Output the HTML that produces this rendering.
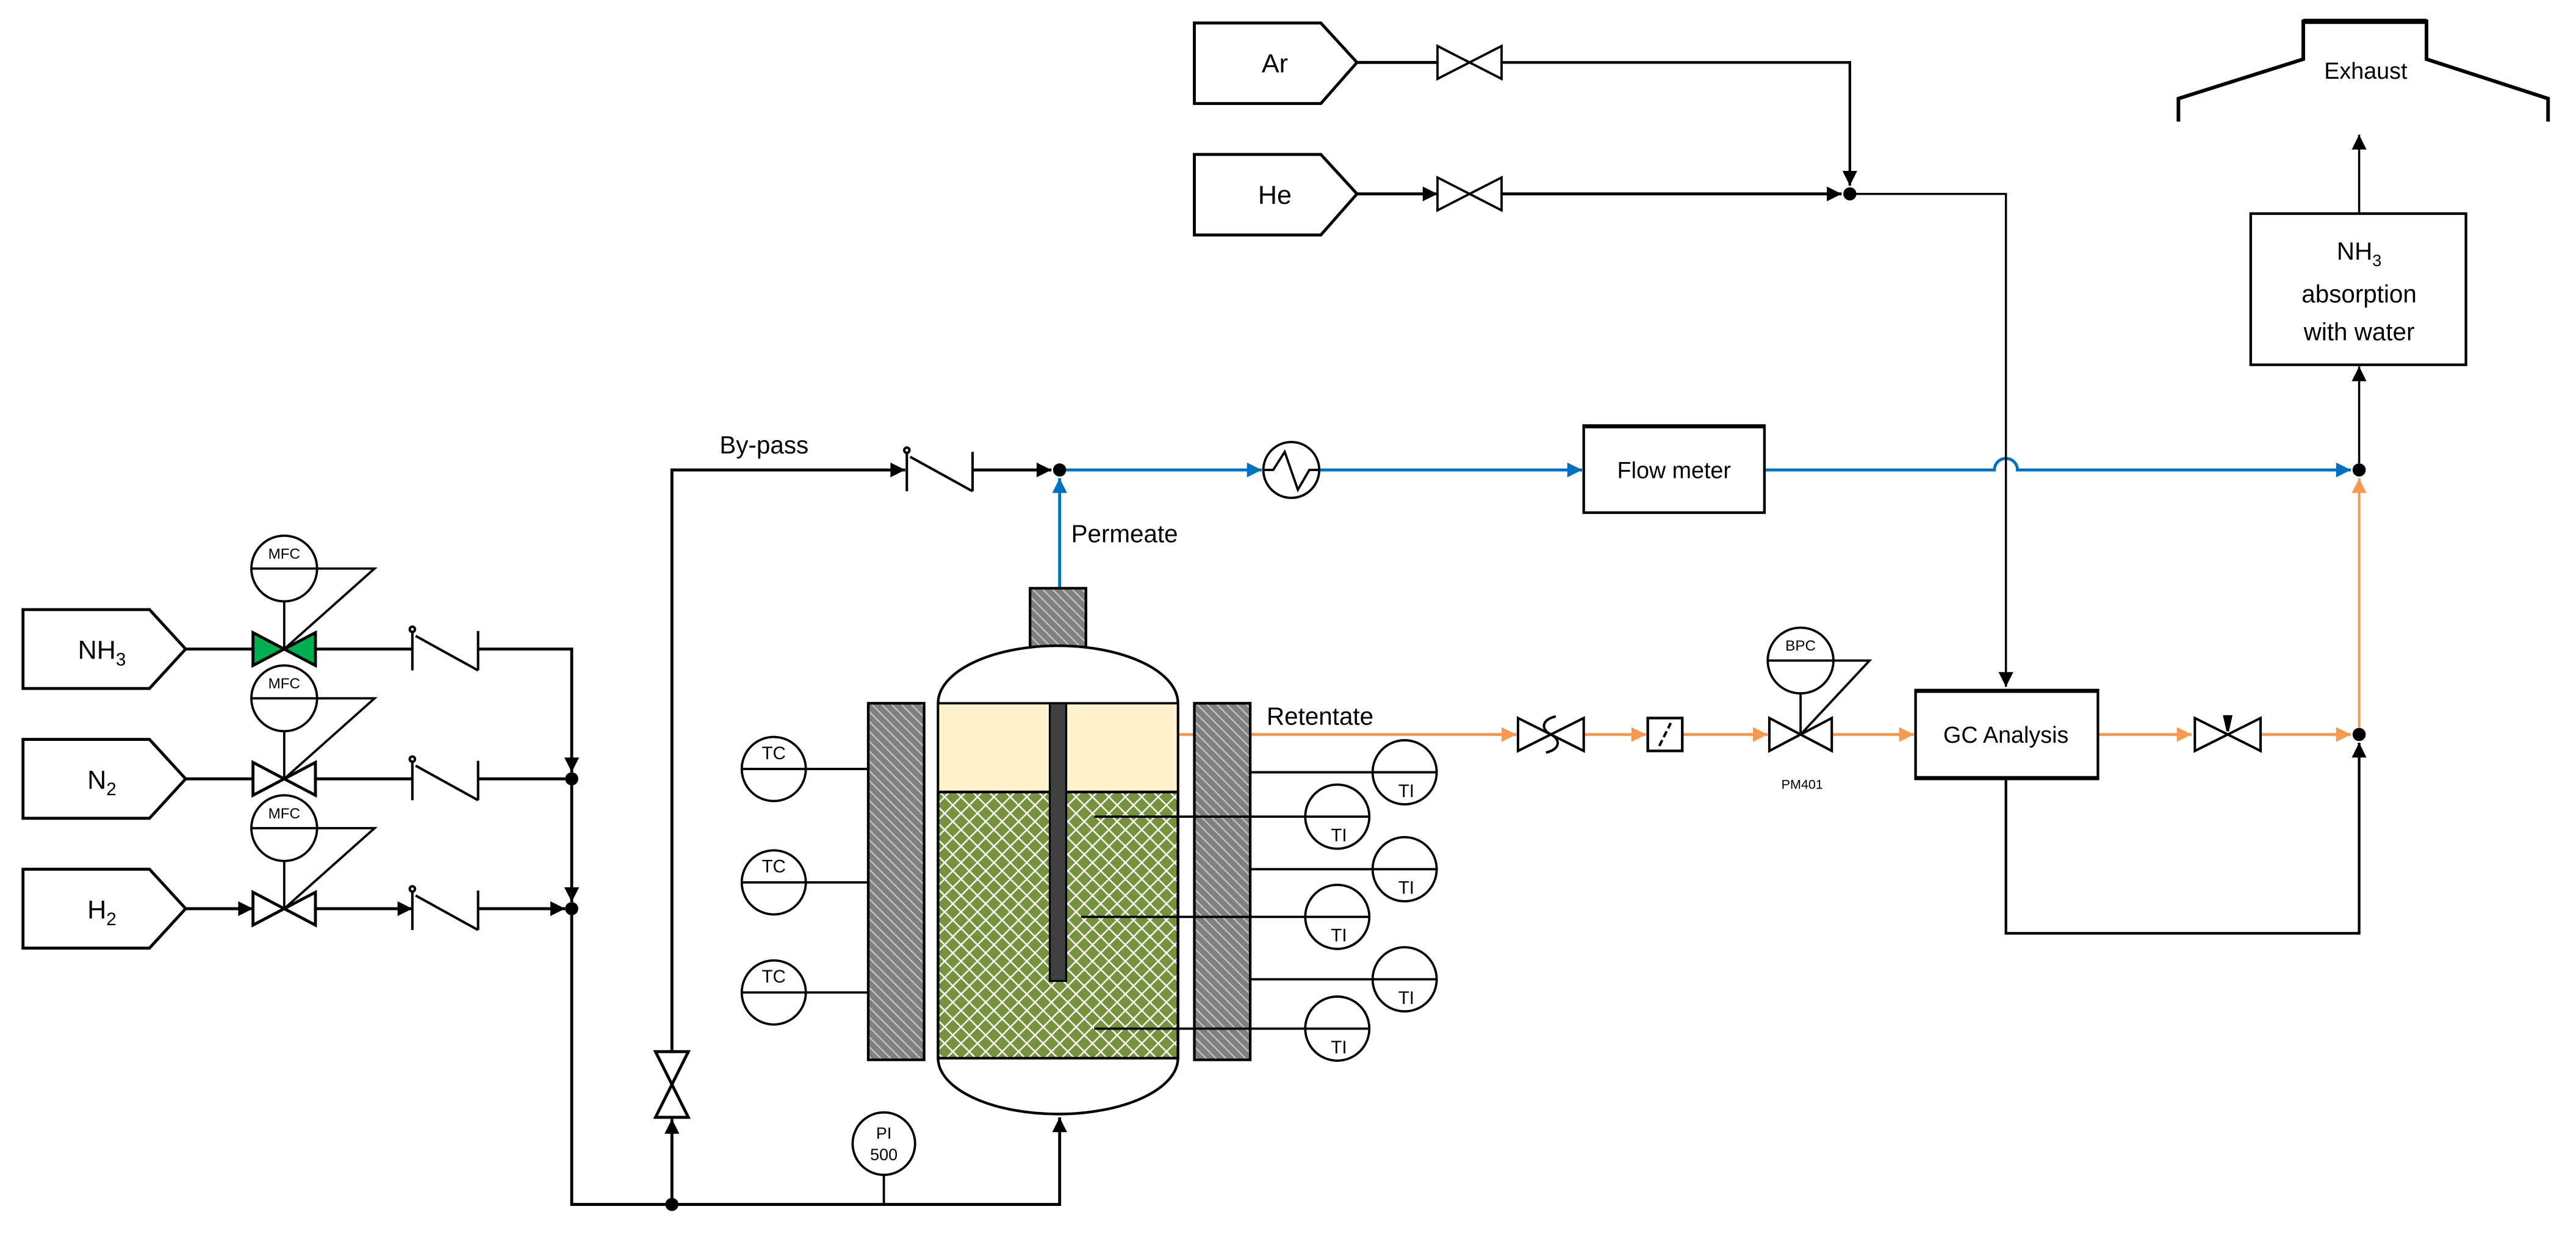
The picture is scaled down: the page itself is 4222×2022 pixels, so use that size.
<!DOCTYPE html>
<html><head><meta charset="utf-8"><style>html,body{margin:0;padding:0;background:#fff}svg{display:block}text{font-family:"Liberation Sans",sans-serif;fill:#000}</style></head><body>
<svg width="4222" height="2022" viewBox="0 0 1568 751" preserveAspectRatio="none" xmlns="http://www.w3.org/2000/svg">
<defs>
<marker id="a" viewBox="0 0 10 10" refX="10" refY="5" markerWidth="11" markerHeight="9" markerUnits="userSpaceOnUse" orient="auto"><path d="M0,0L10,5L0,10z" fill="#000"/></marker>
<marker id="b" viewBox="0 0 10 10" refX="10" refY="5" markerWidth="11" markerHeight="9" markerUnits="userSpaceOnUse" orient="auto"><path d="M0,0L10,5L0,10z" fill="#0070c0"/></marker>
<marker id="o" viewBox="0 0 10 10" refX="10" refY="5" markerWidth="11" markerHeight="9" markerUnits="userSpaceOnUse" orient="auto"><path d="M0,0L10,5L0,10z" fill="#f79a4f"/></marker>
<pattern id="gh" width="6" height="6" patternUnits="userSpaceOnUse"><rect width="6" height="6" fill="#808080"/><path d="M-1,-1L7,7M-1,5L1,7M5,-1L7,1" stroke="#c8c8c8" stroke-width="0.8"/></pattern>
<pattern id="gr" width="10" height="10" patternUnits="userSpaceOnUse"><rect width="10" height="10" fill="#76923c"/><path d="M0,0L10,10M10,0L0,10" stroke="#fff" stroke-width="0.9"/></pattern>
</defs>
<g fill="none" stroke="#000" stroke-width="1.8">
<path d="M14,371H91L113,395L91,419H14Z"/>
<path d="M14,450H91L113,474L91,498H14Z"/>
<path d="M14,529H91L113,553L91,577H14Z"/>
<path d="M113,395H154M113,474H154M113,553H154" marker-end="url(#a)"/>
<path d="M154,385L154,405L192,385L192,405Z" fill="#00b050"/>
<path d="M154,464L154,484L192,464L192,484Z" fill="#fff"/>
<path d="M154,543L154,563L192,543L192,563Z" fill="#fff"/>
<g stroke-width="1.4">
<ellipse cx="173" cy="346" rx="20" ry="20" fill="#fff"/><path d="M153,346H228L173,395M173,366V395"/>
<ellipse cx="173" cy="425" rx="20" ry="20" fill="#fff"/><path d="M153,425H228L173,474M173,445V474"/>
<ellipse cx="173" cy="504" rx="20" ry="20" fill="#fff"/><path d="M153,504H228L173,553M173,524V553"/>
</g>
<path d="M192,395H251M192,474H251M192,553H251" marker-end="url(#a)"/>
<g stroke-width="1.5">
<path d="M251,384V408M253,387L291,408M291,384V408"/><circle cx="251" cy="383" r="1.6" fill="#fff"/>
<path d="M251,463V487M253,466L291,487M291,463V487"/><circle cx="251" cy="462" r="1.6" fill="#fff"/>
<path d="M251,542V566M253,545L291,566M291,542V566"/><circle cx="251" cy="541" r="1.6" fill="#fff"/>
</g>
<path d="M291,395H348V470" marker-end="url(#a)"/>
<path d="M291,474H344M291,553H344" marker-end="url(#a)"/>
<path d="M348,474V549" marker-end="url(#a)"/>
<path d="M348,553V733H641"/>
<path d="M641,733H645V680" marker-end="url(#a)"/>
<path d="M538,715V733" stroke-width="1.4"/>
<circle cx="538" cy="696" r="19" fill="#fff" stroke-width="1.4"/>
<path d="M409,733V681" marker-end="url(#a)"/>
<path d="M399,640L419,640L399,680L419,680Z" fill="#fff"/>
<path d="M409,640V286H551" marker-end="url(#a)"/>
<g stroke-width="1.5"><path d="M552,275V299M554,278L592,299M592,275V299"/><circle cx="552" cy="274" r="1.6" fill="#fff"/></g>
<path d="M592,286H640" marker-end="url(#a)"/>
</g>
<g fill="#000"><circle cx="348" cy="474" r="4"/><circle cx="348" cy="553" r="4"/><circle cx="409" cy="733" r="4"/><circle cx="645" cy="286" r="4"/><circle cx="1126" cy="118" r="4"/><circle cx="1436" cy="286" r="4"/><circle cx="1436" cy="447" r="4"/></g>
<g fill="none" stroke="#0070c0" stroke-width="1.8">
<path d="M645,358V291" marker-end="url(#b)"/>
<path d="M649,286H768" marker-end="url(#b)"/>
<path d="M803,286H963" marker-end="url(#b)"/>
<path d="M1074,286H1214A6,6 0 0 1 1228,286H1431" marker-end="url(#b)"/>
</g>
<g fill="none" stroke="#000" stroke-width="1.4">
<circle cx="786" cy="286" r="17" fill="#fff"/><path d="M769,286H775L782,275L790,298L797,286H803"/>
<rect x="964" y="259" width="110" height="53" stroke-width="1.6"/><path d="M964,259.5H1074" stroke-width="2.4"/>
</g>
<g fill="none" stroke="#000" stroke-width="1.8">
<path d="M727,14H804L826,38L804,63H727Z"/>
<path d="M727,94H804L826,118L804,143H727Z"/>
<path d="M826,38H875M826,118H875" marker-end="url(#a)"/>
<path d="M875,28L875,48L914,28L914,48Z" fill="#fff" stroke-width="1.4"/>
<path d="M875,108L875,128L914,108L914,128Z" fill="#fff" stroke-width="1.4"/>
<path d="M914,38H1126V113" marker-end="url(#a)" stroke-width="1.6"/>
<path d="M914,118H1121" marker-end="url(#a)"/>
<path d="M1126,118H1221V418" marker-end="url(#a)" stroke-width="1.3"/>
<path d="M1326,74V60L1402,36V13H1477V36L1551,60V74" stroke-width="2.2"/>
<path d="M1402,13H1477" stroke-width="3.2"/>
<path d="M1436,130V82" marker-end="url(#a)" stroke-width="1.3"/>
<rect x="1370" y="130" width="131" height="92" stroke-width="1.6"/>
<path d="M1436,282V223" marker-end="url(#a)" stroke-width="1.3"/>
<path d="M1221,474V568H1436V452" marker-end="url(#a)" stroke-width="1.6"/>
</g>
<g fill="none" stroke="#f79a4f" stroke-width="1.8">
<path d="M717,447H923" marker-end="url(#o)"/>
<path d="M964,447H1002" marker-end="url(#o)"/>
<path d="M1024,447H1076" marker-end="url(#o)"/>
<path d="M1115,447H1165" marker-end="url(#o)"/>
<path d="M1277,447H1334" marker-end="url(#o)"/>
<path d="M1376,447H1431" marker-end="url(#o)"/>
<path d="M1436,443V291" marker-end="url(#o)" stroke-width="1.5"/>
</g>
<g fill="none" stroke="#000" stroke-width="1.5">
<path d="M924,437L924,457L964,437L964,457Z" fill="#fff"/>
<path d="M947,436C938,438 938,444 944,447C950,450 950,456 941,458"/>
<rect x="1003" y="437" width="21" height="20" fill="#fff" stroke-width="1.6"/>
<path d="M1010,454L1017,440" stroke-dasharray="4,2"/>
<path d="M1077,437L1077,457L1115,437L1115,457Z" fill="#fff"/>
<ellipse cx="1096" cy="402" rx="20" ry="20" fill="#fff" stroke-width="1.4"/>
<path d="M1076,402H1138L1096,447M1096,422V447" stroke-width="1.4"/>
<rect x="1166" y="420" width="111" height="54" fill="#fff" stroke-width="1.6"/><path d="M1166,420.5H1277M1166,473.5H1277" stroke-width="2.4"/>
<path d="M1336,437L1336,457L1376,437L1376,457Z" fill="#fff"/>
<path d="M1354,436L1358,436L1356,445Z" fill="#000"/>
</g>
<rect x="627" y="358" width="34" height="36" fill="url(#gh)" stroke="#000" stroke-width="1.6"/>
<path d="M571,428A73,35 0 0 1 717,428V644A73,34 0 0 1 571,644Z" fill="#fff" stroke="#000" stroke-width="1.6"/>
<rect x="571" y="428" width="146" height="54" fill="#fff2cc" stroke="#000" stroke-width="1.4"/>
<rect x="571" y="482" width="146" height="162" fill="url(#gr)" stroke="#000" stroke-width="1.6"/>
<rect x="639" y="428" width="10" height="169" fill="#404040" stroke="#000" stroke-width="1.2"/>
<rect x="528.5" y="428" width="34" height="217" fill="url(#gh)" stroke="#000" stroke-width="1.6"/>
<rect x="727" y="428" width="34" height="217" fill="url(#gh)" stroke="#000" stroke-width="1.6"/>
<g fill="none" stroke="#000" stroke-width="1.4">
<path d="M452,468H528M452,537H528M452,604H528"/>
<circle cx="471" cy="468" r="19.5"/><circle cx="471" cy="537" r="19.5"/><circle cx="471" cy="604" r="19.5"/>
<path d="M761,470H874M761,529H874M761,596H874M666,497H833M658,558H833M666,626H833"/>
<circle cx="855" cy="470" r="19.5"/><circle cx="855" cy="529" r="19.5"/><circle cx="855" cy="596" r="19.5"/>
<circle cx="814" cy="497" r="19.5"/><circle cx="814" cy="558" r="19.5"/><circle cx="814" cy="626" r="19.5"/>
</g>
<g font-size="16" text-anchor="middle">
<text x="62" y="401">NH<tspan font-size="11" dy="4">3</tspan></text>
<text x="62" y="480">N<tspan font-size="11" dy="4">2</tspan></text>
<text x="62" y="559">H<tspan font-size="11" dy="4">2</tspan></text>
<text x="776" y="44">Ar</text>
<text x="776" y="124">He</text>
<text x="1440" y="48" font-size="14">Exhaust</text>
<text x="1436" y="158" font-size="15">NH<tspan font-size="10" dy="4">3</tspan></text>
<text x="1436" y="184" font-size="15">absorption</text>
<text x="1436" y="207" font-size="15">with water</text>
<text x="1019" y="291" font-size="14">Flow meter</text>
<text x="1221" y="452" font-size="14">GC Analysis</text>
</g>
<g font-size="15">
<text x="438" y="276">By-pass</text>
<text x="652" y="330">Permeate</text>
<text x="771" y="441">Retentate</text>
</g>
<g font-size="9" text-anchor="middle">
<text x="173" y="340">MFC</text><text x="173" y="419">MFC</text><text x="173" y="498">MFC</text>
<text x="1096" y="396">BPC</text>
<text x="1097" y="480" font-size="8">PM401</text>
<text x="538" y="693" font-size="10">PI</text><text x="538" y="706" font-size="10">500</text>
</g>
<g font-size="11" text-anchor="middle">
<text x="471" y="462">TC</text><text x="471" y="531">TC</text><text x="471" y="598">TC</text>
<text x="856" y="485">TI</text><text x="856" y="544">TI</text><text x="856" y="611">TI</text>
<text x="815" y="512">TI</text><text x="815" y="573">TI</text><text x="815" y="641">TI</text>
</g>
</svg>
</body></html>
